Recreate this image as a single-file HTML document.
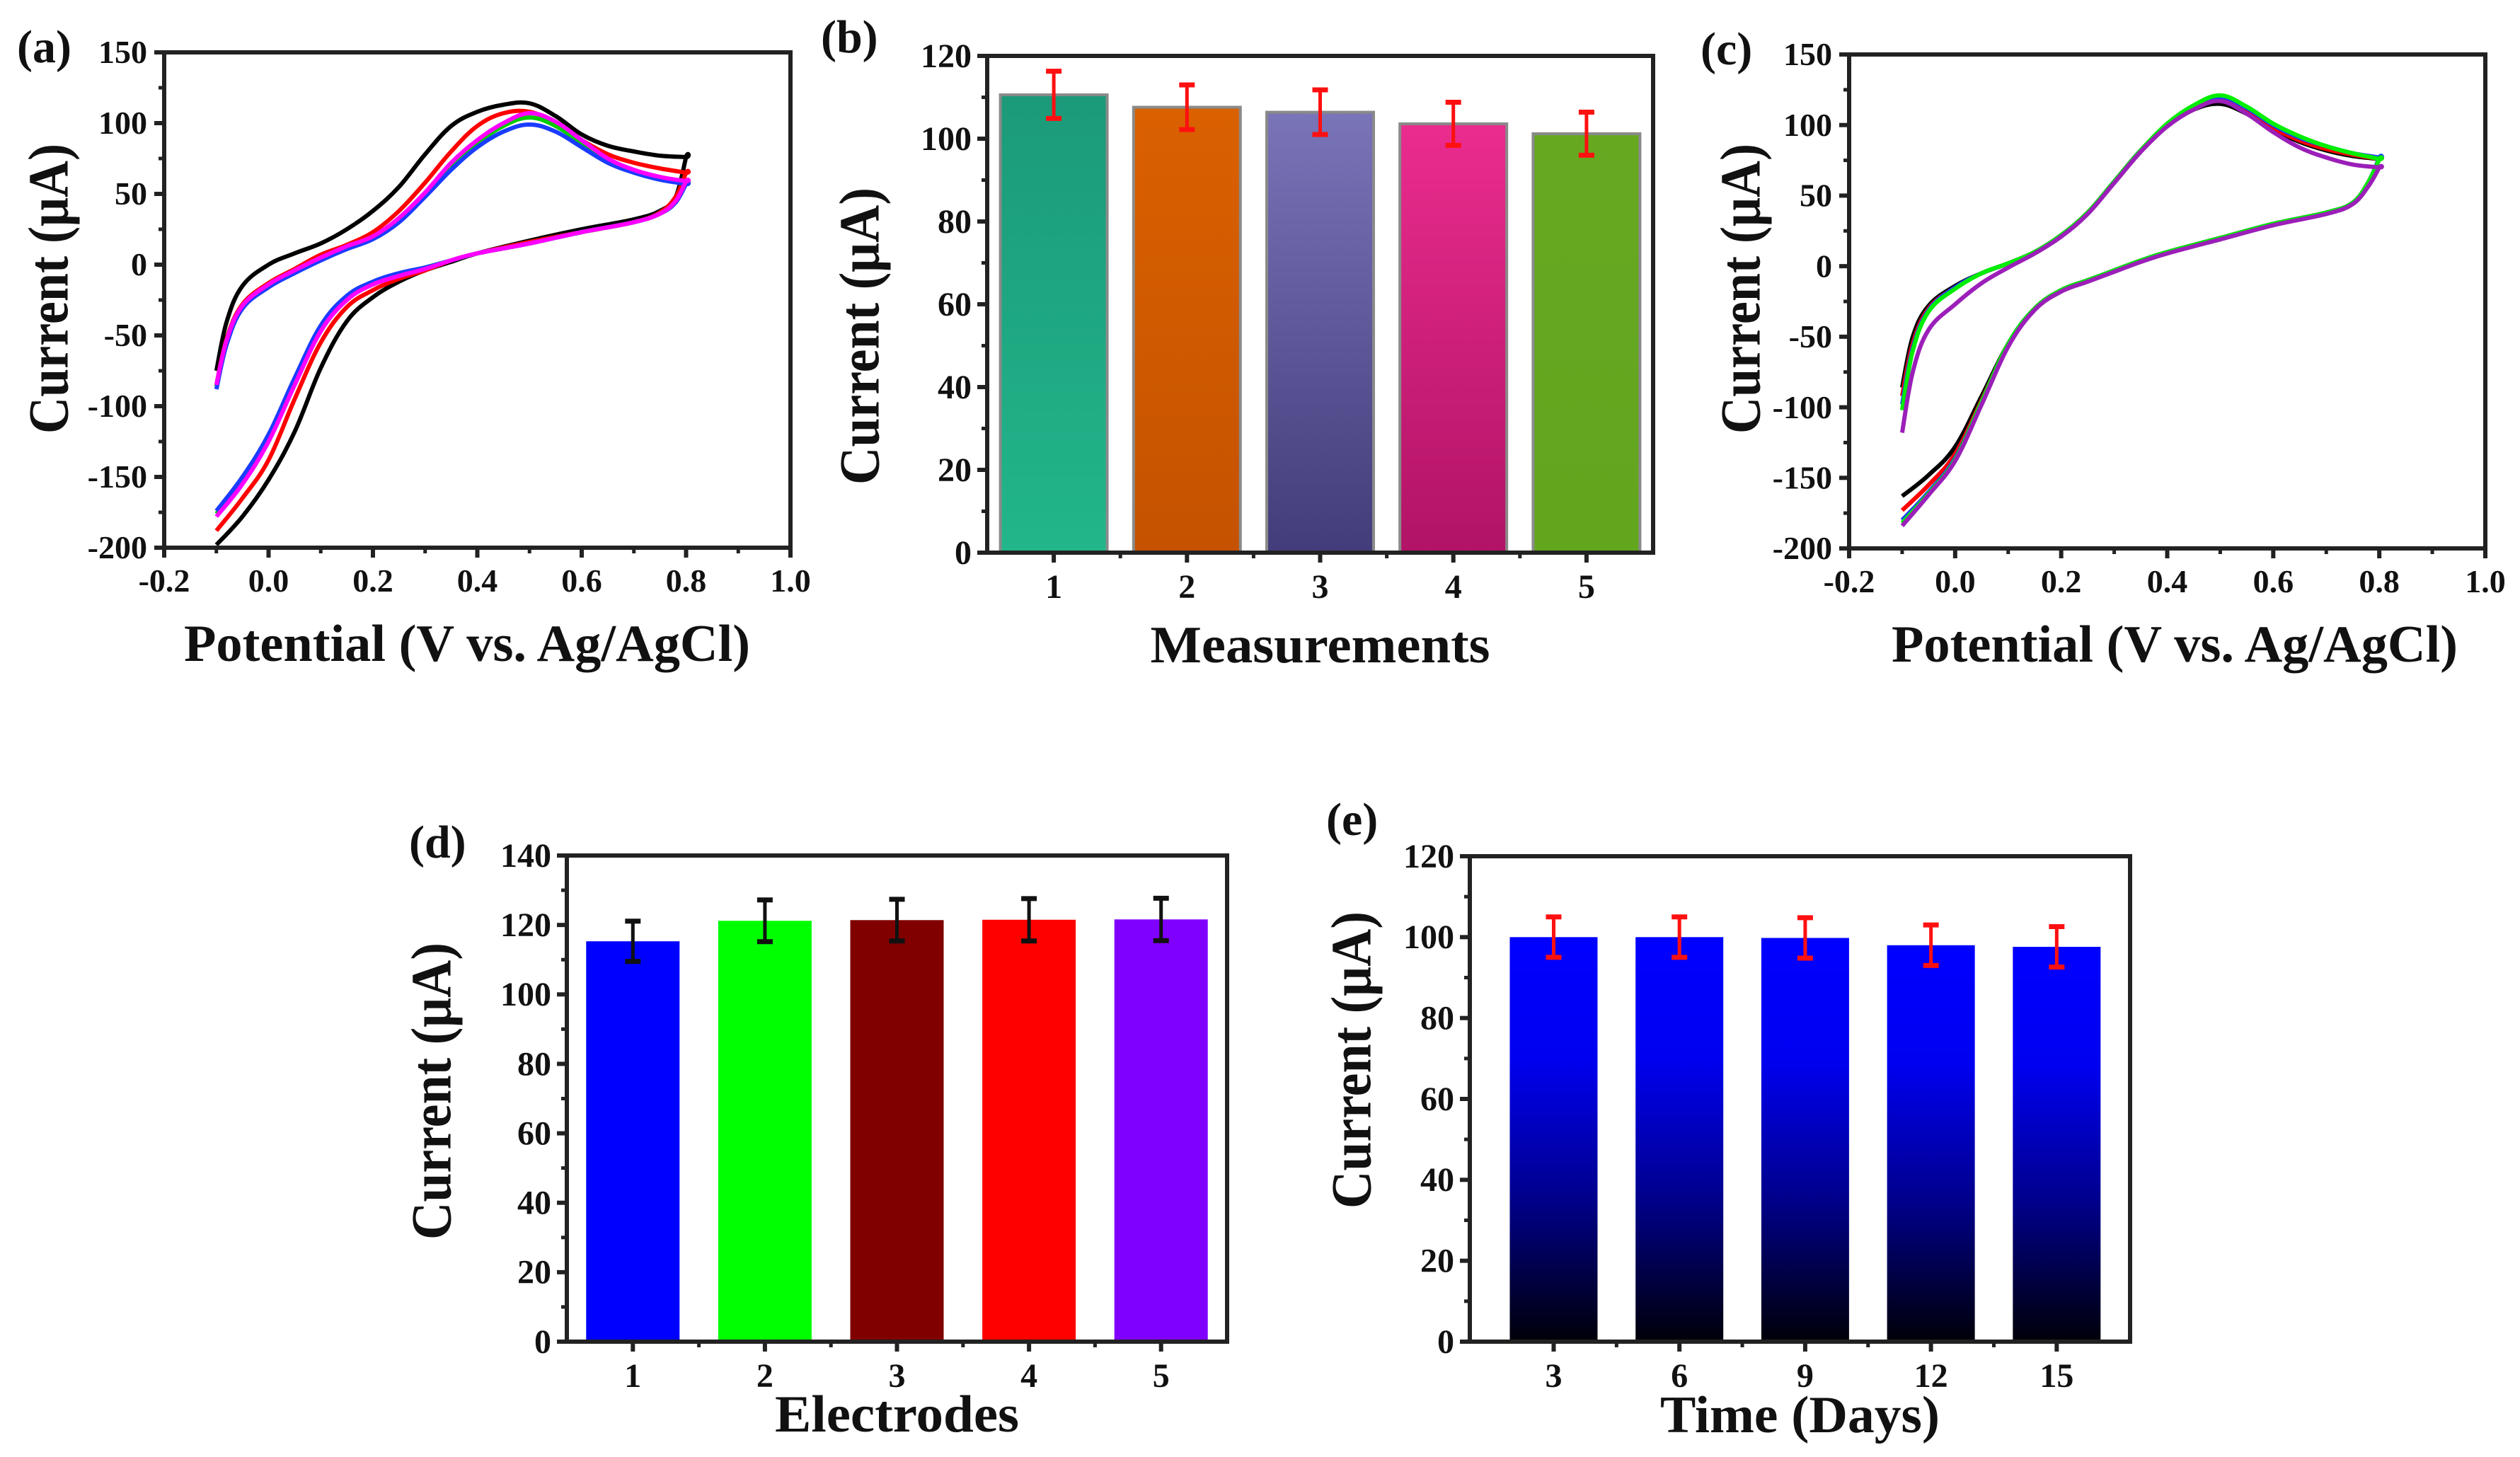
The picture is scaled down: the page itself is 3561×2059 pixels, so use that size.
<!DOCTYPE html>
<html><head><meta charset="utf-8">
<style>
html,body{margin:0;padding:0;background:#fff;}
svg{display:block;}
text{font-family:"Liberation Serif","DejaVu Serif",serif;font-weight:bold;fill:#111;}
</style></head>
<body>
<svg id="fig" width="3561" height="2059" viewBox="0 0 3561 2059" xmlns="http://www.w3.org/2000/svg">
<defs>
<linearGradient id="gb1" x1="0" y1="0" x2="0" y2="1"><stop offset="0" stop-color="#1b9a79"/><stop offset="1" stop-color="#22b68a"/></linearGradient>
<linearGradient id="gb2" x1="0" y1="0" x2="0" y2="1"><stop offset="0" stop-color="#da6100"/><stop offset="1" stop-color="#c55200"/></linearGradient>
<linearGradient id="gb3" x1="0" y1="0" x2="0" y2="1"><stop offset="0" stop-color="#7a74b8"/><stop offset="1" stop-color="#433c7a"/></linearGradient>
<linearGradient id="gb4" x1="0" y1="0" x2="0" y2="1"><stop offset="0" stop-color="#ea2c8e"/><stop offset="1" stop-color="#b11366"/></linearGradient>
<linearGradient id="gb5" x1="0" y1="0" x2="0" y2="1"><stop offset="0" stop-color="#67a821"/><stop offset="1" stop-color="#62a61e"/></linearGradient>
<linearGradient id="ge" x1="0" y1="0" x2="0" y2="1"><stop offset="0" stop-color="#0000ff"/><stop offset="0.3" stop-color="#0000f0"/><stop offset="0.65" stop-color="#00008a"/><stop offset="1" stop-color="#000008"/></linearGradient>
</defs>
<g id="root"></g>
</svg>
<script>
// ---------- DATA ----------
const cvPotential = [-0.1,-0.08,-0.05,0,0.05,0.1,0.15,0.2,0.25,0.3,0.35,0.4,0.45,0.5,0.55,0.6,0.65,0.7,0.75,0.8,
                     0.8,0.78,0.75,0.7,0.6,0.5,0.4,0.35,0.3,0.25,0.2,0.15,0.1,0.05,0,-0.05,-0.1];
const aBlack   = [-75,-40,-15,0,8,15,25,38,55,78,98,108,113,114,105,92,84,80,77,76, 76,48,38,32,25,17,8,2,-4,-12,-23,-40,-73,-118,-152,-178,-198];
const aRed     = [-85,-52,-28,-13,-3,7,14,23,38,58,80,98,107,108,100,88,78,72,68,65, 65,48,37,30,23,16,8,3,-4,-10,-18,-30,-55,-95,-138,-165,-188];
const aMagenta = [-85,-53,-29,-14,-4,5,13,20,33,51,72,88,100,107,101,88,75,67,62,59, 59,45,36,30,23,15,8,3,-3,-8,-14,-25,-47,-85,-125,-155,-178];
const aGreen   = [-86,-54,-30,-15,-5,4,12,19,32,50,70,86,98,104,98,86,74,66,61,58, 58,44,36,30,23,15,8,3,-2,-7,-13,-23,-45,-82,-122,-153,-176];
const aBlue    = [-88,-56,-31,-16,-6,3,11,18,30,48,67,83,94,99,94,83,72,65,60,57, 57,44,36,30,23,15,8,3,-2,-6,-12,-22,-43,-80,-120,-150,-174];
const cBlack   = [-86,-50,-28,-14,-5,2,10,22,38,60,82,100,111,115,108,97,88,82,78,76, 76,60,45,38,30,20,10,4,-3,-10,-17,-30,-55,-92,-128,-148,-163];
const cRed     = [-92,-55,-30,-15,-5,2,10,22,38,60,82,100,112,118,110,98,89,83,79,76, 76,60,45,38,30,20,10,4,-3,-10,-17,-30,-55,-95,-133,-155,-173];
const cBlue    = [-98,-58,-31,-15,-5,2,10,22,38,60,82,100,113,120,112,100,91,85,80,77, 77,60,45,38,30,20,10,4,-3,-10,-17,-30,-55,-96,-136,-160,-180];
const cGreen   = [-102,-60,-32,-16,-5,2,10,22,38,60,82,101,114,121,113,101,92,85,80,76, 76,60,45,38,30,20,10,4,-3,-10,-17,-30,-55,-96,-137,-161,-182];
const cPurple  = [-118,-75,-45,-27,-12,-1,9,21,37,59,81,99,111,117,108,95,84,77,72,70, 70,57,44,37,29,19,9,3,-4,-11,-18,-31,-57,-98,-138,-162,-184];
const cvXTicks = [-0.2,0.0,0.2,0.4,0.6,0.8,1.0];
const cvXTickLabels = ["-0.2","0.0","0.2","0.4","0.6","0.8","1.0"];
const cvYTicks = [-200,-150,-100,-50,0,50,100,150];

const bCategories = [1,2,3,4,5];
const bValues = [110.6,107.6,106.4,103.6,101.2];
const bErrors = [5.7,5.4,5.4,5.2,5.2];
const bYTicks = [0,20,40,60,80,100,120];

const dCategories = [1,2,3,4,5];
const dValues = [115.3,121.2,121.4,121.5,121.6];
const dErrors = [5.8,6.0,6.0,6.1,6.1];
const dYTicks = [0,20,40,60,80,100,120,140];

const eCategories = [3,6,9,12,15];
const eValues = [100.0,100.0,99.8,98.0,97.6];
const eErrors = [5.0,5.0,5.0,5.0,5.0];
const eYTicks = [0,20,40,60,80,100,120];

// ---------- HELPERS ----------
const NS="http://www.w3.org/2000/svg";
const root=document.getElementById('root');
function mk(tag,attrs,parent){const e=document.createElementNS(NS,tag);for(const k in attrs)e.setAttribute(k,attrs[k]);(parent||root).appendChild(e);return e;}
function lin(d0,d1,r0,r1){return v=>r0+(v-d0)*(r1-r0)/(d1-d0);}
function smoothPath(pts){
  let d="M"+pts[0][0].toFixed(1)+","+pts[0][1].toFixed(1);
  for(let i=0;i<pts.length-1;i++){
    const p0=pts[Math.max(0,i-1)],p1=pts[i],p2=pts[i+1],p3=pts[Math.min(pts.length-1,i+2)];
    const t=0.18;
    const c1=[p1[0]+(p2[0]-p0[0])*t,p1[1]+(p2[1]-p0[1])*t];
    const c2=[p2[0]-(p3[0]-p1[0])*t,p2[1]-(p3[1]-p1[1])*t];
    d+=" C"+c1[0].toFixed(1)+","+c1[1].toFixed(1)+" "+c2[0].toFixed(1)+","+c2[1].toFixed(1)+" "+p2[0].toFixed(1)+","+p2[1].toFixed(1);
  }
  return d;
}
function frame(g,L,T,R,B){
  const f=mk('rect',{x:L,y:T,width:R-L,height:B-T,fill:'none',stroke:'#222','stroke-width':6},g);
  
  
}
function yAxis(g,y,ticks,L,fs,labelX){
  ticks.forEach((v,i)=>{
    const t=mk('line',{x1:L-14,x2:L,y1:y(v),y2:y(v),stroke:'#222','stroke-width':6},g);
    
    
    if(i<ticks.length-1){
      const m=(v+ticks[i+1])/2;
      const mt=mk('line',{x1:L-8,x2:L,y1:y(m),y2:y(m),stroke:'#222','stroke-width':5},g);
      
      
    }
    const tx=mk('text',{x:labelX,y:y(v)+fs*0.33,'text-anchor':'end','font-size':fs},g);
    tx.textContent=String(v);
    
    
  });
}
function yTitle(g,cx,cy,len,fs){
  const t=mk('text',{x:0,y:0,'text-anchor':'middle','font-size':fs,transform:`translate(${cx+fs*0.33},${cy}) rotate(-90)`,textLength:len,lengthAdjust:'spacingAndGlyphs'},g);
  t.textContent='Current (μA)';
  
  
}
function xTitle(g,cx,cy,txt,len,fs){
  const t=mk('text',{x:cx,y:cy,'text-anchor':'middle','font-size':fs,textLength:len,lengthAdjust:'spacingAndGlyphs'},g);
  t.textContent=txt;
  
  
}
function panelLabel(g,x,y,txt,fs){
  const t=mk('text',{x:x,y:y,'font-size':fs},g);
  t.textContent=txt;
  
  
}

// ---------- CV PANELS ----------
function cvPanel(name,L,T,R,B,series,colors,seriesNames,lab,labX,titleX,ytX,ytY){
  const g=mk('g',{});
  
  
  const x=lin(-0.2,1.0,L,R), y=lin(-200,150,B,T);
  series.forEach((s,k)=>{
    const pts=cvPotential.map((p,i)=>[x(p),y(s[i])]);
    const p=mk('path',{d:smoothPath(pts),fill:'none',stroke:colors[k],'stroke-width':6,'stroke-linejoin':'round'},g);
    
    
  });
  frame(g,L,T,R,B);
  yAxis(g,y,cvYTicks,L,46,L-24);
  cvXTicks.forEach((v,i)=>{
    const t=mk('line',{x1:x(v),x2:x(v),y1:B,y2:B+14,stroke:'#222','stroke-width':6},g);
    
    
    if(i<cvXTicks.length-1){
      const m=(v+cvXTicks[i+1])/2;
      const mt=mk('line',{x1:x(m),x2:x(m),y1:B,y2:B+8,stroke:'#222','stroke-width':5},g);
      
      
    }
    const tx=mk('text',{x:x(v),y:B+62,'text-anchor':'middle','font-size':46},g);
    tx.textContent=cvXTickLabels[i];
    
    
  });
  xTitle(g,titleX,B+160,'Potential (V vs. Ag/AgCl)',800,74);
  yTitle(g,ytX,ytY,410,80);
  panelLabel(g,labX,T+14,lab,66);
}
cvPanel('panel-a-cv',232,74,1117,774,[aBlack,aRed,aGreen,aBlue,aMagenta],['#000','#ff0000','#00cc00','#1a3cff','#ff00ff'],
  ['cv-curve-black','cv-curve-red','cv-curve-green','cv-curve-blue','cv-curve-magenta'],'(a)',24,660,69,408);
cvPanel('panel-c-cv',2613,77,3512,775,[cBlack,cRed,cBlue,cGreen,cPurple],['#000','#ff0000','#1a3cff','#00ee00','#9b1fb8'],
  ['cv-curve-black','cv-curve-red','cv-curve-blue','cv-curve-green','cv-curve-purple'],'(c)',2403,3073,2460,408);

// ---------- BAR PANELS ----------
function barPanel(name,L,T,R,B,cats,vals,errs,ticks,ymax,xd0,xd1,bw,fills,errColor,lab,labX,labY,xtitle,xtLen,xtY,ytX,ytY,ytLen,outline){
  const g=mk('g',{});
  
  
  const x=lin(xd0,xd1,L,R), y=lin(0,ymax,B,T);
  cats.forEach((c,i)=>{
    const r=mk('rect',{x:x(c)-bw/2,y:y(vals[i]),width:bw,height:B-y(vals[i]),fill:fills[i],stroke:outline,'stroke-width':outline==='none'?0:4},g);
    
    
  });
  cats.forEach((c,i)=>{
    const eg=mk('g',{stroke:errColor,'stroke-width':5},g);
    
    
    const yt=y(vals[i]+errs[i]), yb=y(vals[i]-errs[i]);
    mk('line',{x1:x(c),x2:x(c),y1:yt,y2:yb},eg);
    mk('line',{x1:x(c)-11,x2:x(c)+11,y1:yt,y2:yt,'stroke-width':7},eg);
    mk('line',{x1:x(c)-11,x2:x(c)+11,y1:yb,y2:yb,'stroke-width':7},eg);
  });
  frame(g,L,T,R,B);
  yAxis(g,y,ticks,L,48,L-22);
  cats.forEach((c,i)=>{
    const t=mk('line',{x1:x(c),x2:x(c),y1:B,y2:B+14,stroke:'#222','stroke-width':6},g);
    
    
    if(i<cats.length-1){
      const m=(c+cats[i+1])/2;
      const mt=mk('line',{x1:x(m),x2:x(m),y1:B,y2:B+8,stroke:'#222','stroke-width':5},g);
      
      
    }
    const tx=mk('text',{x:x(c),y:B+64,'text-anchor':'middle','font-size':48},g);
    tx.textContent=String(c);
    
    
  });
  xTitle(g,(L+R)/2,xtY,xtitle,xtLen,74);
  yTitle(g,ytX,ytY,ytLen,80);
  panelLabel(g,labX,labY,lab,66);
}
barPanel('panel-b-measurements',1395,79,2336,781,bCategories,bValues,bErrors,bYTicks,120,0.5,5.5,151,
  ['url(#gb1)','url(#gb2)','url(#gb3)','url(#gb4)','url(#gb5)'],'#ff1010','(b)',1160,74,'Measurements',480,936,1215,475,420,'#8a8a8a');
barPanel('panel-d-electrodes',801,1209,1734,1896,dCategories,dValues,dErrors,dYTicks,140,0.5,5.5,132,
  ['#0000ff','#00ff00','#800000','#ff0000','#8000ff'],'#111','(d)',578,1212,'Electrodes',345,2023,610,1542,420,'none');
barPanel('panel-e-time',2077,1210,3010,1896,eCategories,eValues,eErrors,eYTicks,120,1.0,16.75,124,
  ['url(#ge)','url(#ge)','url(#ge)','url(#ge)','url(#ge)'],'#ff1010','(e)',1874,1180,'Time (Days)',395,2024,1910,1498,420,'none');
</script>
</body></html>
